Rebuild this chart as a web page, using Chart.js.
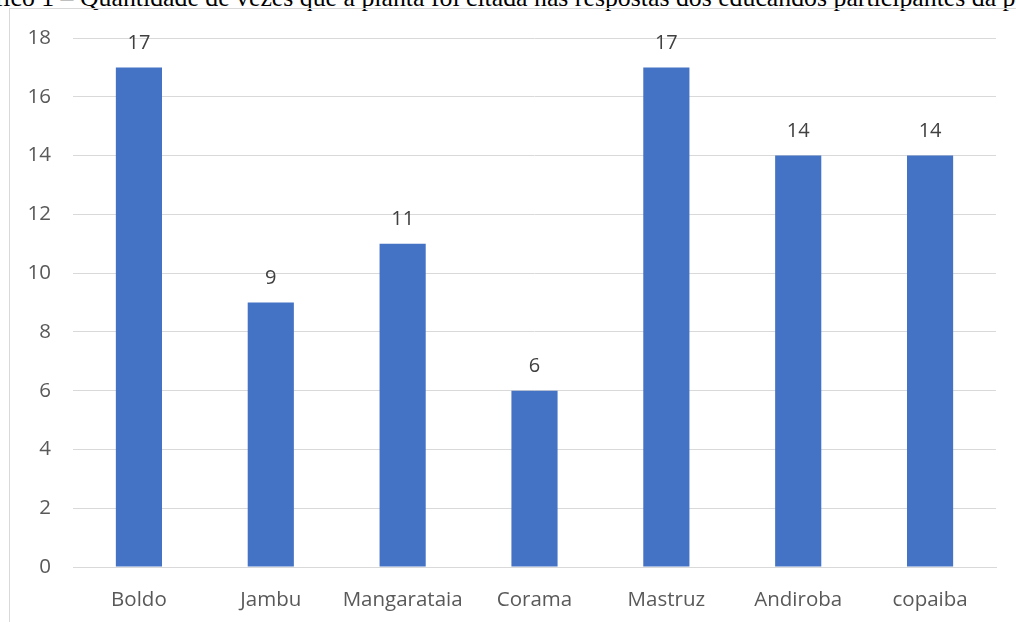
<!DOCTYPE html>
<html>
<head>
<meta charset="utf-8">
<script src="https://cdn.jsdelivr.net/npm/chart.js@4"></script>
<style>
  html, body { margin: 0; padding: 0; background: #fff; overflow: hidden; }
  #wrap { position: relative; width: 1016px; height: 622px; }
  #title { position: absolute; left: -44px; top: -17px; white-space: nowrap;
           font-family: "Liberation Serif", serif; font-size: 25.8px; color: #000; }
  #frame { position: absolute; left: 9px; top: 8px; width: 1020px; height: 630px;
           border: 1px solid #d9d9d9; box-sizing: border-box; }
  #myChart { position: absolute; left: 0; top: 0; }
</style>
</head>
<body>
<div id="wrap">
  <div id="title">Gráfico 1 – Quantidade de vezes que a planta foi citada nas respostas dos educandos participantes da pesquisa</div>
  <div id="frame"></div>
  <canvas id="myChart" width="1016" height="622"></canvas>
</div>
<script>
var labels = ["Boldo", "Jambu", "Mangarataia", "Corama", "Mastruz", "Andiroba", "copaiba"];
var values = [17, 9, 11, 6, 17, 14, 14];
var yTicks = [0, 2, 4, 6, 8, 10, 12, 14, 16, 18];

var fontFam = '"Open Sans", Lato, sans-serif';

// valores em cima das barras
var barLabels = {
  id: 'barLabels',
  afterDatasetsDraw: function(chart) {
    var ctx = chart.ctx;
    var meta = chart.getDatasetMeta(0);
    ctx.save();
    ctx.font = '20px ' + fontFam;
    ctx.fillStyle = '#404040';
    ctx.textAlign = 'center';
    ctx.textBaseline = 'middle';
    meta.data.forEach(function(bar, i) {
      ctx.fillText(values[i], bar.x, bar.y - 24);
    });
    ctx.restore();
  }
};

function renderChart(data, labels) {
  var ctx = document.getElementById("myChart").getContext('2d');
  var myChart = new Chart(ctx, {
    type: 'bar',
    data: {
      labels: labels,
      datasets: [{
        data: data,
        backgroundColor: '#4472c4',
        borderWidth: 0,
        barPercentage: 0.35,
        categoryPercentage: 1
      }]
    },
    options: {
      responsive: false,
      animation: { duration: 0 },
      plugins: { legend: { display: false }, tooltip: { enabled: false } },
      layout: { padding: { left: 0, right: 20, top: 38, bottom: 0 } },
      scales: {
        x: {
          grid: { display: false },
          border: { color: '#d9d9d9' },
          ticks: { color: '#595959', font: { size: 20.5, family: fontFam }, padding: 13 },
          afterFit: function(scale) { scale.height = 55; }
        },
        y: {
          min: yTicks[0],
          max: yTicks[yTicks.length - 1],
          afterBuildTicks: function(scale) {
            scale.ticks = yTicks.map(function(v) { return { value: v }; });
          },
          ticks: { color: '#595959', font: { size: 20.5, family: fontFam }, padding: 22 },
          grid: { color: '#d9d9d9', drawTicks: false },
          border: { display: false },
          afterFit: function(scale) { scale.width = 73; }
        }
      }
    },
    plugins: [barLabels]
  });
}

renderChart(values, labels);
</script>
</body>
</html>
